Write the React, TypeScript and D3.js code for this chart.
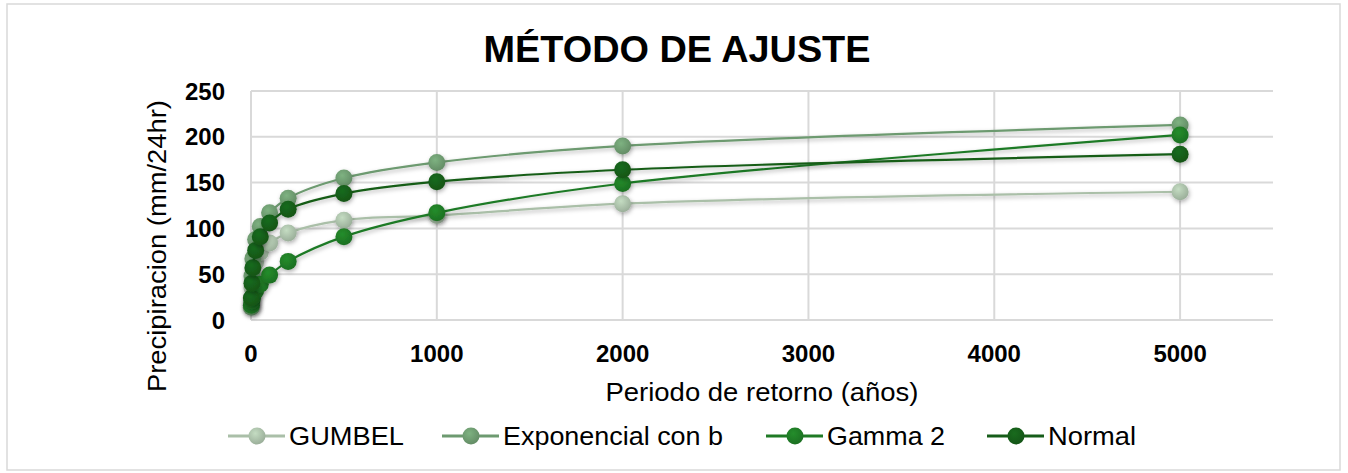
import * as d3 from "d3";

// return periods (años)
const periods = [2, 5, 10, 25, 50, 100, 200, 500, 1000, 2000, 5000];

// precipitation (mm/24hr) per fitting method
const gumbel = [16, 35, 48, 63, 74, 84, 95, 109, 114, 127, 140];
const exponencial = [14, 48, 67, 88, 102, 117, 133, 155, 172, 190, 213];
const gamma2 = [16, 21, 26, 32, 39, 49, 64, 91, 117, 149, 202];
const normal = [24, 40, 57, 76, 91, 106, 121, 138, 151, 164, 181];

const seriesNames = ["GUMBEL", "Exponencial con b", "Gamma 2", "Normal"];
const seriesValues = [gumbel, exponencial, gamma2, normal];
const seriesColors = ["#aabfa8", "#6d9a70", "#1f7a25", "#165d19"];

const xTicks = [0, 1000, 2000, 3000, 4000, 5000];
const yTicks = [0, 50, 100, 150, 200, 250];

const W = 1348;
const H = 473;
const FONT = "'Liberation Sans', Arial, sans-serif";

export default function App() {
  // scales for the plot area
  const x = d3.scaleLinear().domain([0, 5500]).range([251, 1273]);
  const y = d3.scaleLinear().domain([0, 250]).range([320, 91]);

  const line = d3
    .line<number>()
    .x((_, i) => x(periods[i]))
    .y((d) => y(d))
    .curve(d3.curveCatmullRom.alpha(0.5));

  // legend layout
  const legendX = [228, 442, 766, 987];
  const legendTextW = [115, 220, 118, 88];
  const legendY = 436;

  return (
    <svg width={W} height={H} style={{ position: "absolute", left: 0, top: 0, background: "#fff" }}>
      <defs>
        <filter id="shadow" x="-50%" y="-50%" width="200%" height="200%">
          <feDropShadow dx="1" dy="2" stdDeviation="2" floodColor="#000" floodOpacity="0.3" />
        </filter>
        {seriesColors.map((c, i) => (
          <radialGradient key={i} id={`grad${i}`} cx="40%" cy="35%" r="65%">
            <stop offset="0%" stopColor={d3.color(c)!.brighter(0.4).formatHex()} />
            <stop offset="100%" stopColor={d3.color(c)!.darker(0.25).formatHex()} />
          </radialGradient>
        ))}
      </defs>

      <rect x={7} y={4} width={1333} height={466} fill="#fff" stroke="#d9d9d9" strokeWidth={1.5} />

      <text x={677} y={62} textAnchor="middle" fontFamily={FONT} fontWeight="bold" fontSize={37} fill="#000" textLength={387} lengthAdjust="spacingAndGlyphs">
        MÉTODO DE AJUSTE
      </text>

      {/* gridlines */}
      {yTicks.map((t) => (
        <line key={"gy" + t} x1={x(0)} x2={x(5500)} y1={y(t)} y2={y(t)} stroke="#d9d9d9" strokeWidth={2} />
      ))}
      {xTicks.map((t) => (
        <line key={"gx" + t} x1={x(t)} x2={x(t)} y1={y(0)} y2={y(250)} stroke="#d9d9d9" strokeWidth={2} />
      ))}

      {/* tick labels */}
      {yTicks.map((t) => (
        <text key={"ty" + t} x={225} y={y(t) + 8.5} textAnchor="end" fontFamily={FONT} fontWeight="bold" fontSize={24} fill="#000">
          {t}
        </text>
      ))}
      {xTicks.map((t) => (
        <text key={"tx" + t} x={x(t)} y={362} textAnchor="middle" fontFamily={FONT} fontWeight="bold" fontSize={24} fill="#000">
          {t}
        </text>
      ))}

      {/* axis titles */}
      <text x={762} y={401} textAnchor="middle" fontFamily={FONT} fontSize={25} fill="#000" textLength={313} lengthAdjust="spacingAndGlyphs">
        Periodo de retorno (años)
      </text>
      <text
        transform={`translate(166,246) rotate(-90)`}
        textAnchor="middle"
        fontFamily={FONT}
        fontSize={25}
        fill="#000"
        textLength={292}
        lengthAdjust="spacingAndGlyphs"
      >
        Precipiracion (mm/24hr)
      </text>

      {/* series */}
      {seriesValues.map((vals, si) => (
        <g key={"s" + si}>
          <path d={line(vals) || ""} fill="none" stroke={seriesColors[si]} strokeWidth={2.2} filter="url(#shadow)" />
          {vals.map((v, i) => (
            <circle key={i} cx={x(periods[i])} cy={y(v)} r={8.5} fill={`url(#grad${si})`} filter="url(#shadow)" />
          ))}
        </g>
      ))}

      {/* legend */}
      {seriesNames.map((name, i) => (
        <g key={"l" + i} transform={`translate(${legendX[i]},${legendY})`}>
          <line x1={0} x2={57} y1={0} y2={0} stroke={seriesColors[i]} strokeWidth={3} />
          <circle cx={29} cy={0} r={8.5} fill={`url(#grad${i})`} />
          <text x={61} y={9} fontFamily={FONT} fontSize={25} fill="#000" textLength={legendTextW[i]} lengthAdjust="spacingAndGlyphs">
            {name}
          </text>
        </g>
      ))}
    </svg>
  );
}
